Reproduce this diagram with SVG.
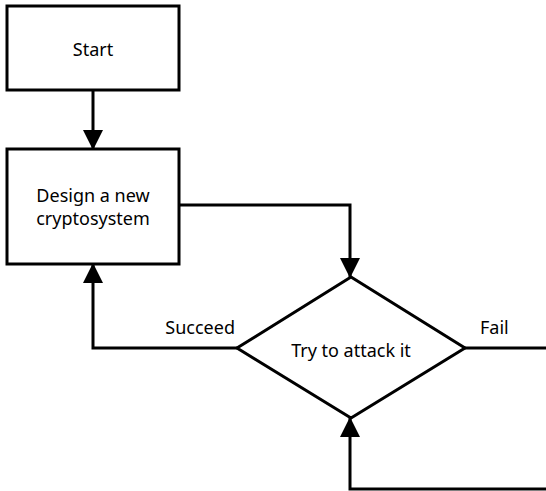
<svg xmlns="http://www.w3.org/2000/svg" width="546" height="491" viewBox="0 0 546 491">
<style>
.box{fill:#fff;stroke:#000;stroke-width:3}
.ln{fill:none;stroke:#000;stroke-width:3}
text{font-family:"Noto Sans","Open Sans",sans-serif;font-size:18px;fill:#000}
.c{text-anchor:middle}
</style>
<defs>
<marker id="ah" viewBox="0 0 20 20" refX="19" refY="10" markerWidth="20" markerHeight="20" markerUnits="userSpaceOnUse" orient="auto">
<path d="M0,0 L20,10 L0,20 Z" fill="#000"/>
</marker>
</defs>
<g id="connectors">
<path class="ln" d="M93,90 V149" marker-end="url(#ah)"/>
<path class="ln" d="M179,205 H350 V277" marker-end="url(#ah)"/>
<path class="ln" d="M237,348 H93 V264" marker-end="url(#ah)"/>
<path class="ln" d="M465,348 H546"/>
<path class="ln" d="M546,489 H350 V418" marker-end="url(#ah)"/>
<text x="235" y="334" text-anchor="end">Succeed</text>
<text x="480" y="334">Fail</text>
</g>
<g id="start">
<rect class="box" x="7" y="6" width="172" height="84"/>
<text class="c" x="93" y="56">Start</text>
</g>
<g id="design">
<rect class="box" x="7" y="149" width="172" height="115"/>
<text class="c" x="93" y="202">Design a new</text>
<text class="c" x="93" y="225">cryptosystem</text>
</g>
<g id="attack">
<polygon class="box" points="351,277 465,348 351,418 237,348"/>
<text class="c" x="351" y="357">Try to attack it</text>
</g>
</svg>
